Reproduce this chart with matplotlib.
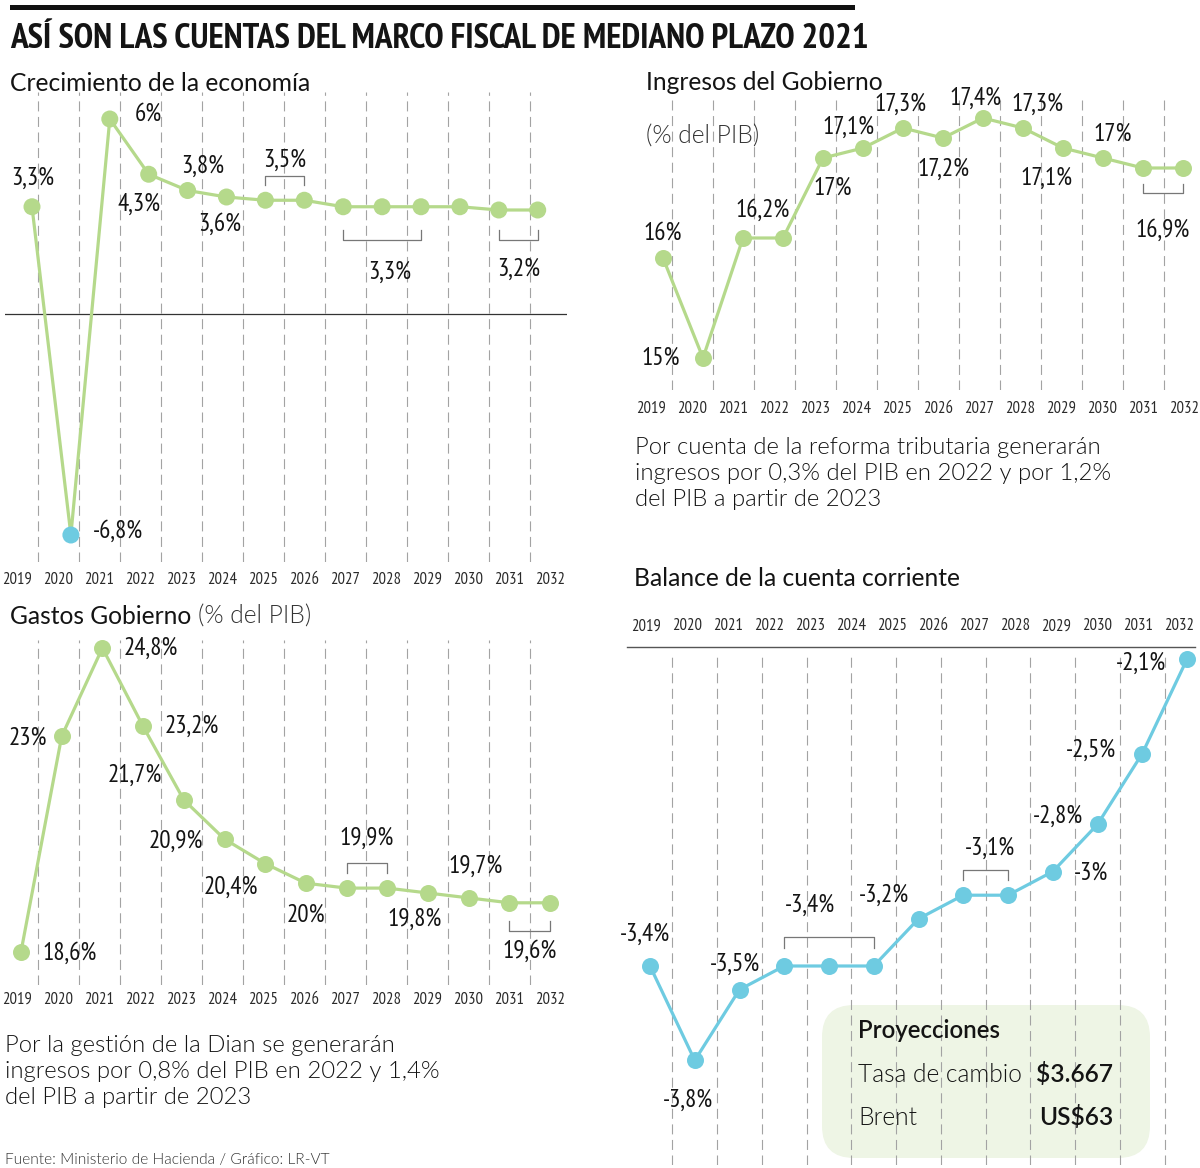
import matplotlib
matplotlib.use("Agg")
import matplotlib.pyplot as plt
from matplotlib import font_manager
from matplotlib.patches import FancyBboxPatch, Rectangle
import numpy as np

W, H = 1200, 1168

years = list(range(2019, 2033))
year_labels = [str(y) for y in years]

growth = [3.3, -6.8, 6.0, 4.3, 3.8, 3.6, 3.5, 3.5, 3.3, 3.3, 3.3, 3.3, 3.2, 3.2]
income = [16.0, 15.0, 16.2, 16.2, 17.0, 17.1, 17.3, 17.2, 17.4, 17.3, 17.1, 17.0, 16.9, 16.9]
spending = [18.6, 23.0, 24.8, 23.2, 21.7, 20.9, 20.4, 20.0, 19.9, 19.9, 19.8, 19.7, 19.6, 19.6]
current_account = [-3.4, -3.8, -3.5, -3.4, -3.4, -3.4, -3.2, -3.1, -3.1, -3.0, -2.8, -2.5, -2.1]

title = "ASÍ SON LAS CUENTAS DEL MARCO FISCAL DE MEDIANO PLAZO 2021"
note_income = ["Por cuenta de la reforma tributaria generarán",
               "ingresos por 0,3% del PIB en 2022 y por 1,2%",
               "del PIB a partir de 2023"]
note_spending = ["Por la gestión de la Dian se generarán",
                 "ingresos por 0,8% del PIB en 2022 y 1,4%",
                 "del PIB a partir de 2023"]
projections = [("Tasa de cambio", "$3.667"), ("Brent", "US$63")]
source = "Fuente: Ministerio de Hacienda / Gráfico: LR-VT"

GREEN = "#b5d98b"
BLUE = "#6ecbe1"
DASH = "#a3a3a3"
BRACKET = "#777777"
INK = "#141414"

# pick installed fonts close to Myriad Pro / Myriad Pro Condensed
weights = {}
for f in font_manager.fontManager.ttflist:
    if f.style == "normal":
        try:
            weights.setdefault(f.name, set()).add(int(f.weight))
        except ValueError:
            weights.setdefault(f.name, set()).add(400)


def pick(cands, need=()):
    for c in cands:
        if c in weights and all(any(w in weights[c] for w in n) for n in need):
            return c
    return "DejaVu Sans"


NARROW_NAME = pick(["PT Sans Narrow", "Fira Sans Condensed", "Roboto Condensed",
                    "Archivo Narrow", "Liberation Sans Narrow"])
SANS_NAME = pick(["Source Sans Pro", "Source Sans 3", "Lato", "PT Sans"],
                 need=[(300,), (400,), (600, 700)])
NARROW = [NARROW_NAME, "DejaVu Sans"]
SANS = [SANS_NAME, "DejaVu Sans"]
LIGHT = 300 if 300 in weights.get(SANS_NAME, ()) else 400
SEMI = 600 if 600 in weights.get(SANS_NAME, ()) else 700
# Lato runs a little wider than Myriad
K = 1.0 if SANS_NAME.startswith("Source") else 0.96

fig = plt.figure(figsize=(W / 100, H / 100), dpi=100)


def fmt(v):
    s = f"{v:.1f}".replace(".", ",")
    if s.endswith(",0"):
        s = s[:-2]
    return s + "%"


def px_box(left, top, width, height):
    return [left / W, 1 - (top + height) / H, width / W, height / H]


def ftext(x, y, s, **kw):
    kw.setdefault("family", SANS)
    kw.setdefault("color", INK)
    kw.setdefault("va", "baseline")
    return fig.text(x / W, 1 - y / H, s, **kw)


def point_axes(box, x0, sx, vref, yref, ppu):
    left, top, width, height = box
    ax = fig.add_axes(px_box(*box))
    ax.set_xlim((left - x0) / sx, (left + width - x0) / sx)
    ax.set_ylim(vref - (top + height - yref) / ppu, vref + (yref - top) / ppu)
    ax.axis("off")
    ax.patch.set_alpha(0)
    ax.ppu = ppu
    return ax


def label_axes(box, x0, sx, side, pad, dashed=True):
    left, top, width, height = box
    ax = fig.add_axes(px_box(*box))
    ax.patch.set_alpha(0)
    ax.set_xlim((left - x0) / sx, (left + width - x0) / sx)
    ax.set_ylim(0, 1)
    ax.set_xticks(range(len(years)), year_labels)
    ax.set_yticks([])
    for s in ax.spines.values():
        s.set_visible(False)
    if side == "top":
        ax.xaxis.tick_top()
    ax.tick_params(axis="x", length=0, pad=pad, labelsize=12, labelcolor="#2a2a2a")
    for t in ax.get_xticklabels():
        t.set_family(NARROW)
    if dashed:
        for k in range(len(years) - 1):
            ax.axvline(k + 0.5, color=DASH, lw=0.8, ls=(0, (9, 5)), zorder=0)
    return ax


def dashes(ax, n):
    for k in range(n - 1):
        ax.axvline(k + 0.5, color=DASH, lw=0.8, ls=(0, (9, 5)), zorder=0)


def series(ax, values, line_color, point_colors):
    x = np.arange(len(values))
    ax.plot(x, values, color=line_color, lw=2.3, zorder=3, clip_on=False)
    ax.scatter(x, values, s=150, c=point_colors, zorder=4, clip_on=False, linewidths=0)


def labels(ax, values, specs):
    for idx, dx, dy, ha in specs:
        group = idx if isinstance(idx, tuple) else (idx,)
        x = np.mean(group)
        v = values[group[0]]
        ax.annotate(fmt(v), (x, v), xytext=(dx, dy), textcoords="offset pixels",
                    ha=ha, va="center", fontsize=18, family=NARROW, color=INK,
                    zorder=5, annotation_clip=False)


def brackets(ax, values, specs):
    for i0, i1, bar, leg, ldx, ldy in specs:
        v = values[i0]
        sign = 1 if bar > 0 else -1
        yb = v + bar / ax.ppu
        yl = v + (bar - sign * leg) / ax.ppu
        ax.plot([i0, i0, i1, i1], [yl, yb, yb, yl], color=BRACKET, lw=0.9,
                zorder=2, clip_on=False)
        ax.annotate(fmt(v), ((i0 + i1) / 2, v), xytext=(ldx, ldy),
                    textcoords="offset pixels", ha="center", va="center",
                    fontsize=18, family=NARROW, color=INK, annotation_clip=False)


HEAD = 18.5 * K
NOTE = 17.9 * K

# top rule and title
fig.add_artist(Rectangle((10 / W, 1 - 10 / H), 845 / W, 5 / H,
                         transform=fig.transFigure, color="#111111", lw=0))
ftext(10, 48, title, family=NARROW, weight="bold", fontsize=25.3)

# ---- Crecimiento de la economía
ftext(10, 91, "Crecimiento de la economía", fontsize=HEAD)
label_axes((5, 92, 562, 470), 17, 41, "bottom", 7)
ax1 = point_axes((5, 92, 562, 470), 32, 38.9, 0, 314, 32.5)
ax1.axhline(0, color="#333333", lw=0.9, zorder=1)
series(ax1, growth, GREEN, [BLUE if v < 0 else GREEN for v in growth])
labels(ax1, growth, [(0, 1, 28, "center"), (1, 22, 4, "left"), (2, 39, 5, "center"),
                     (3, -10, -30, "center"), (4, 15, 24, "center"),
                     (5, -7, -27, "center")])
brackets(ax1, growth, [(6, 7, 24, 9, 0, 40), (8, 10, -33, 10, 8, -66),
                       (12, 13, -30, 10, 0, -59)])

# ---- Ingresos del Gobierno
ftext(646, 90, "Ingresos del Gobierno", fontsize=HEAD)
ftext(646, 144, "(% del PIB)", fontsize=HEAD, weight=LIGHT, color="#333333")
label_axes((640, 100, 560, 290), 651, 41, "bottom", 8)
ax2 = point_axes((640, 100, 560, 290), 663, 40.0, 17.0, 158, 100)
series(ax2, income, GREEN, GREEN)
labels(ax2, income, [(0, 0, 25, "center"), (1, -42, 0, "center"),
                     ((2, 3), 0, 28, "center"), (4, 10, -30, "center"),
                     (5, -15, 21, "center"), (6, -3, 24, "center"),
                     (7, 0, -31, "center"), (8, -8, 20, "center"),
                     (9, 14, 24, "center"), (10, -17, -30, "center"),
                     (11, 10, 24, "center")])
brackets(ax2, income, [(12, 13, -25, 9, 0, -62)])
for i, line in enumerate(note_income):
    ftext(635, 454 + 26 * i, line, fontsize=NOTE, weight=LIGHT)

# ---- Gastos Gobierno
t = ftext(10, 624, "Gastos Gobierno ", fontsize=HEAD)
fig.canvas.draw()
bb = t.get_window_extent()
fig.text(bb.x1 / W, 1 - 624 / H, "(% del PIB)", fontsize=HEAD, weight=LIGHT,
         family=SANS, color="#333333", va="baseline")
label_axes((0, 640, 570, 345), 17, 41, "bottom", 5)
ax3 = point_axes((0, 640, 570, 345), 21, 40.7, 24.8, 648, 49)
series(ax3, spending, GREEN, GREEN)
labels(ax3, spending, [(0, 21, -1, "left"), (1, -15, -2, "right"), (2, 21, 0, "left"),
                       (3, 22, 0, "left"), (4, -22, 25, "right"),
                       (5, -21, -2, "right"), (6, -34, -24, "center"),
                       (7, 0, -32, "center"), (10, -13, -26, "center"),
                       (11, 7, 32, "center")])
brackets(ax3, spending, [(8, 9, 25, 10, 0, 50), (12, 13, -28, 10, 0, -48)])
for i, line in enumerate(note_spending):
    ftext(5, 1052 + 26 * i, line, fontsize=NOTE, weight=LIGHT)

# ---- Balance de la cuenta corriente
ftext(634, 586, "Balance de la cuenta corriente", fontsize=HEAD)
box = FancyBboxPatch((822 / 100, (H - 1158) / 100), 3.28, 1.53,
                     boxstyle="round,pad=0,rounding_size=0.32",
                     transform=fig.dpi_scale_trans, facecolor="#eef5e5",
                     edgecolor="none", zorder=-1)
fig.patches.append(box)
lax4 = label_axes((627, 647, 568, 10), 646, 41, "top", 9, dashed=False)
lax4.spines["top"].set_visible(True)
lax4.spines["top"].set_color("#555555")
lax4.spines["top"].set_linewidth(1)
ax4 = point_axes((627, 655, 568, 510), 650, 44.75, -3.4, 966, 236)
dashes(ax4, len(current_account))
series(ax4, current_account, BLUE, BLUE)
labels(ax4, current_account, [(0, -5, 32, "center"), (1, -7, -40, "center"),
                              (2, -5, 25, "center"), (6, -35, 24, "center"),
                              (9, 38, -2, "center"), (10, -40, 8, "center"),
                              (11, -51, 3, "center"), (12, -46, -4, "center")])
brackets(ax4, current_account, [(3, 5, 29, 11, -19, 61), (7, 8, 25, 10, 4, 47)])

ftext(858, 1038, "Proyecciones", fontsize=18 * K, weight=SEMI)
for i, (name, val) in enumerate(projections):
    ftext(858, 1082 + 43 * i, name, fontsize=18.5 * K, weight=LIGHT)
    ftext(1113, 1082 + 43 * i, val, fontsize=18.5 * K, weight=SEMI, ha="right")

ftext(5, 1164, source, fontsize=11.6 * K, weight=LIGHT, color="#333333")

fig.savefig("out.png", dpi=100)
